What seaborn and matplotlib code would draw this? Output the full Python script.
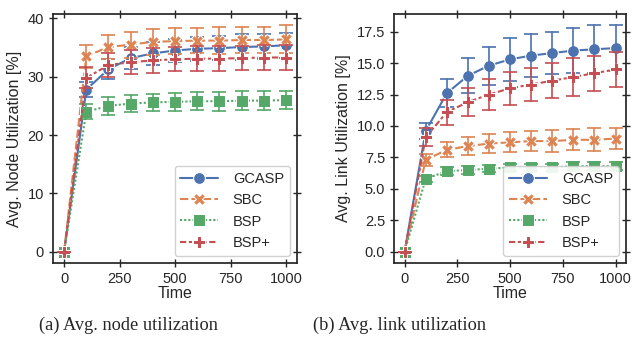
import numpy as np
import pandas as pd
import matplotlib
matplotlib.use("Agg")
import matplotlib.pyplot as plt
import seaborn as sns

times = [0, 100, 200, 300, 400, 500, 600, 700, 800, 900, 1000]
algos = ["GCASP", "SBC", "BSP", "BSP+"]

# node utilization: mean and half-width of error bar
node_mean = {
    "GCASP": [0, 27.8, 31.3, 33.2, 34.0, 34.5, 34.8, 34.9, 35.1, 35.2, 35.4],
    "SBC":   [0, 33.5, 35.1, 35.5, 36.0, 36.1, 36.2, 36.2, 36.3, 36.3, 36.4],
    "BSP":   [0, 24.0, 25.0, 25.4, 25.6, 25.7, 25.8, 25.8, 25.9, 25.9, 26.0],
    "BSP+":  [0, 29.8, 32.0, 32.5, 32.8, 33.0, 33.1, 33.1, 33.2, 33.3, 33.3],
}
node_err = {
    "GCASP": [0, 1.3, 1.7, 1.9, 2.0, 2.0, 2.1, 2.1, 2.2, 2.2, 2.1],
    "SBC":   [0, 2.0, 2.0, 2.2, 2.2, 2.2, 2.2, 2.3, 2.3, 2.3, 2.4],
    "BSP":   [0, 1.3, 1.5, 1.5, 1.5, 1.5, 1.5, 1.6, 1.6, 1.6, 1.6],
    "BSP+":  [0, 1.8, 2.0, 2.1, 2.1, 2.1, 2.1, 2.1, 2.1, 2.1, 2.1],
}

# link utilization
link_mean = {
    "GCASP": [0, 9.6, 12.6, 14.0, 14.8, 15.3, 15.6, 15.8, 16.0, 16.1, 16.2],
    "SBC":   [0, 7.3, 8.1, 8.4, 8.6, 8.7, 8.8, 8.8, 8.9, 8.9, 9.0],
    "BSP":   [0, 5.8, 6.4, 6.5, 6.6, 6.7, 6.7, 6.7, 6.8, 6.8, 6.8],
    "BSP+":  [0, 9.1, 11.1, 11.9, 12.5, 13.0, 13.3, 13.6, 13.9, 14.2, 14.5],
}
link_err = {
    "GCASP": [0, 0.6, 1.1, 1.4, 1.5, 1.7, 1.7, 1.7, 1.8, 1.9, 1.8],
    "SBC":   [0, 0.5, 0.6, 0.7, 0.75, 0.8, 0.8, 0.85, 0.85, 0.9, 0.85],
    "BSP":   [0, 0.25, 0.3, 0.3, 0.3, 0.3, 0.3, 0.3, 0.3, 0.3, 0.3],
    "BSP+":  [0, 0.7, 1.0, 1.1, 1.2, 1.3, 1.3, 1.4, 1.5, 1.4, 1.4],
}


def to_frame(mean, err):
    # three rows per point (mean-err, mean, mean+err) so seaborn's
    # min/max interval reproduces the error bars
    rows = []
    for a in algos:
        for t, m, e in zip(times, mean[a], err[a]):
            for v in (m - e, m, m + e):
                rows.append({"Time": t, "Algorithm": a, "value": v})
    return pd.DataFrame(rows)


sns.set_theme(style="ticks", palette="deep")
plt.rcParams["font.family"] = ["Liberation Sans", "DejaVu Sans"]
plt.rcParams["xtick.direction"] = "inout"
plt.rcParams["ytick.direction"] = "inout"
plt.rcParams["xtick.top"] = True
plt.rcParams["ytick.right"] = True

fig = plt.figure(figsize=(6.34, 3.53), dpi=100)
ax1 = fig.add_axes([0.0836, 0.255, 0.385, 0.705])
ax2 = fig.add_axes([0.6215, 0.255, 0.366, 0.705])

markers = {"GCASP": "o", "SBC": "X", "BSP": "s", "BSP+": "P"}

for ax, mean, err, ylabel in [
    (ax1, node_mean, node_err, "Avg. Node Utilization [%]"),
    (ax2, link_mean, link_err, "Avg. Link Utilization [%]"),
]:
    df = to_frame(mean, err)
    sns.lineplot(data=df, x="Time", y="value", hue="Algorithm", style="Algorithm",
                 markers=markers, dashes=True, markersize=8.5,
                 errorbar=("pi", 100), err_style="bars",
                 err_kws={"capsize": 5, "elinewidth": 1.2, "capthick": 1.2},
                 linewidth=1.5, ax=ax)
    ax.set_ylabel(ylabel, fontsize=11.5)
    ax.set_xlabel("Time", fontsize=11.5, labelpad=0)
    ax.set_xticks([0, 250, 500, 750, 1000])
    ax.tick_params(labelsize=10.5, length=6, width=1)
    ax.legend(loc="lower right", fontsize=10.5, handlelength=2.6,
              handletextpad=1.0, framealpha=0.9)

ax1.set_yticks([0, 10, 20, 30, 40])
ax2.set_yticks([0, 2.5, 5, 7.5, 10, 12.5, 15, 17.5])

fig.text(0.202, 0.079, "(a) Avg. node utilization", ha="center", va="center",
         family="Liberation Serif", fontsize=13.2)
fig.text(0.63, 0.079, "(b) Avg. link utilization", ha="center", va="center",
         family="Liberation Serif", fontsize=13.2)

fig.savefig("out.png", dpi=100)
